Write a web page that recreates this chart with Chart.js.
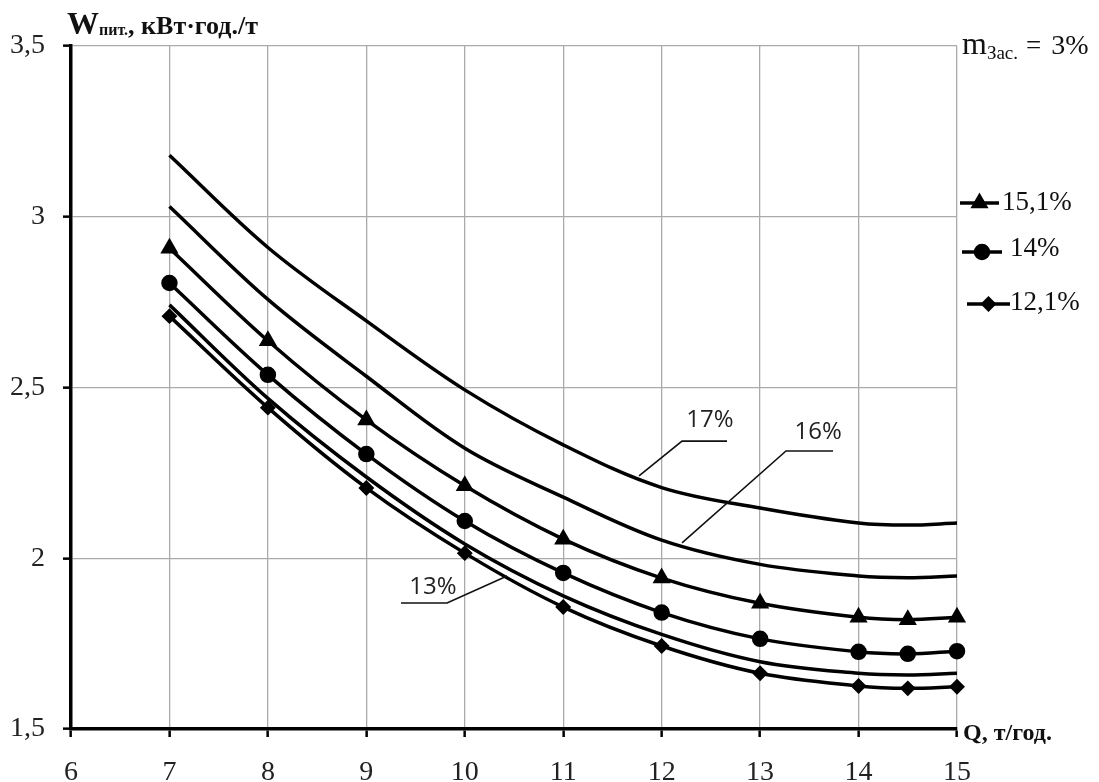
<!DOCTYPE html>
<html>
<head>
<meta charset="utf-8">
<script src="https://cdn.jsdelivr.net/npm/chart.js@4.4.1/dist/chart.umd.min.js"></script>
<style>
  html, body { margin: 0; padding: 0; background: #fff; }
  #wrap { width: 1099px; height: 782px; }
</style>
</head>
<body>
<div id="wrap"><canvas id="chart" width="1099" height="782"></canvas></div>
<script>
// Q, t/h  (x values, same for every curve)
const qValues = [7, 8, 9, 10, 11, 12, 13, 14, 14.5, 15];

// W, kWh/t for every moisture level
const w17  = [3.18, 2.91, 2.695, 2.493, 2.332, 2.207, 2.147, 2.103, 2.097, 2.103];
const w16  = [3.03, 2.758, 2.533, 2.322, 2.179, 2.053, 1.982, 1.948, 1.943, 1.948];
const w151 = [2.908, 2.637, 2.405, 2.212, 2.056, 1.942, 1.868, 1.827, 1.82, 1.827];
const w14  = [2.806, 2.537, 2.305, 2.109, 1.957, 1.841, 1.764, 1.726, 1.72, 1.728];
const w13  = [2.742, 2.468, 2.238, 2.042, 1.89, 1.777, 1.697, 1.663, 1.658, 1.663];
const w121 = [2.709, 2.441, 2.206, 2.015, 1.857, 1.743, 1.663, 1.626, 1.619, 1.624];

const seriesLabels = ['17%', '16%', '15,1%', '14%', '13%', '12,1%'];
const xTickLabels = ['6', '7', '8', '9', '10', '11', '12', '13', '14', '15'];
const yTickValues = [1.5, 2, 2.5, 3, 3.5];
const yTickLabels = ['1,5', '2', '2,5', '3', '3,5'];

// callouts for the unmarked curves: [label, curve point, elbow, line end, text centre] in data units
const callouts = [
  ['17%', [11.77, 2.241], [12.207, 2.343], [12.664, 2.343], [12.49, 2.405]],
  ['16%', [12.207, 2.045], [13.263, 2.314], [13.741, 2.314], [13.59, 2.37]],
  ['13%', [10.43, 1.948], [9.82, 1.869], [9.352, 1.869], [9.677, 1.915]]
];

const serif = '"Liberation Serif", "Times New Roman", serif';
const sans = '"Open Sans", "Liberation Sans", Arial, sans-serif';

function toPoints(values) {
  return qValues.map((q, i) => ({ x: q, y: values[i] }));
}

function curve(label, values, style, radius) {
  return {
    label: label,
    data: toPoints(values),
    borderColor: '#000',
    backgroundColor: '#000',
    borderWidth: 3.5,
    tension: 0.35,
    pointStyle: style || 'circle',
    pointRadius: style ? radius : 0,
    pointHoverRadius: 0,
    clip: false
  };
}

// draws text made of several runs (for subscripts)
function drawRuns(ctx, x, y, runs) {
  ctx.textAlign = 'left';
  ctx.textBaseline = 'alphabetic';
  runs.forEach(r => {
    ctx.font = r.font;
    ctx.fillText(r.text, x, y + (r.dy || 0));
    x += ctx.measureText(r.text).width + (r.gap || 0);
  });
}

const decorations = {
  id: 'decorations',
  afterDraw(chart) {
    const ctx = chart.ctx;
    const xs = chart.scales.x, ys = chart.scales.y;
    const px = v => xs.getPixelForValue(v), py = v => ys.getPixelForValue(v);
    ctx.save();
    ctx.fillStyle = '#111';

    // y-axis title
    drawRuns(ctx, 67, 34, [
      { text: 'W', font: 'bold 32px ' + serif },
      { text: 'пит.', font: 'bold 16px ' + serif, dy: 1 },
      { text: ', кВт·год./т', font: 'bold 26px ' + serif }
    ]);

    // x-axis title
    drawRuns(ctx, 963, 740, [{ text: 'Q, т/год.', font: 'bold 24px ' + serif }]);

    // moisture of the feed note
    drawRuns(ctx, 962, 54, [
      { text: 'm', font: '32px ' + serif },
      { text: 'Зас.', font: '19px ' + serif, dy: 5, gap: 8 },
      { text: '=', font: '27px ' + serif, gap: 10 },
      { text: '3%', font: '28px ' + serif }
    ]);

    // legend for the marked curves
    const legendRows = [
      { ds: 2, x0: 960, x1: 999, y: 203, tx: 1002, ty: 210 },
      { ds: 3, x0: 962, x1: 1002, y: 252, tx: 1010, ty: 256 },
      { ds: 5, x0: 967, x1: 1010, y: 304, tx: 1010, ty: 310 }
    ];
    legendRows.forEach(row => {
      const ds = chart.data.datasets[row.ds];
      ctx.strokeStyle = '#000';
      ctx.lineWidth = 3.5;
      ctx.beginPath();
      ctx.moveTo(row.x0, row.y);
      ctx.lineTo(row.x1, row.y);
      ctx.stroke();
      ctx.fillStyle = '#000';
      Chart.helpers.drawPoint(ctx, {
        pointStyle: ds.pointStyle, radius: ds.pointRadius, rotation: 0, borderWidth: 1
      }, (row.x0 + row.x1) / 2, row.y);
      ctx.fillStyle = '#111';
      drawRuns(ctx, row.tx, row.ty, [{ text: ds.label, font: '27px ' + serif }]);
    });

    // callouts
    ctx.strokeStyle = '#111';
    ctx.lineWidth = 1.6;
    ctx.fillStyle = '#222';
    ctx.font = '24px ' + sans;
    ctx.textAlign = 'center';
    ctx.textBaseline = 'middle';
    callouts.forEach(([label, p0, p1, p2, t]) => {
      ctx.beginPath();
      ctx.moveTo(px(p0[0]), py(p0[1]));
      ctx.lineTo(px(p1[0]), py(p1[1]));
      ctx.lineTo(px(p2[0]), py(p2[1]));
      ctx.stroke();
      ctx.fillText(label, px(t[0]), py(t[1]));
    });
    ctx.restore();
  }
};

new Chart(document.getElementById('chart'), {
  type: 'line',
  data: {
    datasets: [
      curve(seriesLabels[0], w17),
      curve(seriesLabels[1], w16),
      curve(seriesLabels[2], w151, 'triangle', 7),
      curve(seriesLabels[3], w14, 'circle', 6.5),
      curve(seriesLabels[4], w13),
      curve(seriesLabels[5], w121, 'rectRot', 5.5)
    ]
  },
  options: {
    responsive: false,
    devicePixelRatio: 1,
    animation: false,
    events: [],
    layout: { padding: { left: 0, top: 46, right: 142, bottom: 0 } },
    plugins: { legend: { display: false }, tooltip: { enabled: false } },
    scales: {
      x: {
        type: 'linear',
        min: 6,
        max: 15,
        afterFit(scale) { scale.height = 53; },
        afterBuildTicks(scale) {
          scale.ticks = xTickLabels.map(t => ({ value: Number(t) }));
        },
        ticks: {
          padding: 19,
          autoSkip: false,
          maxRotation: 0,
          color: '#222',
          font: { family: serif, size: 28 },
          callback: (v, i) => xTickLabels[i]
        },
        grid: { color: '#aaa', lineWidth: 1.3, tickLength: 8, tickColor: '#000', tickWidth: 2.5 },
        border: { color: '#000', width: 3.5 }
      },
      y: {
        min: 1.5,
        max: 3.5,
        afterFit(scale) { scale.width = 71; },
        afterBuildTicks(scale) {
          scale.ticks = yTickValues.map(v => ({ value: v }));
        },
        ticks: {
          padding: 18,
          color: '#222',
          font: { family: serif, size: 28 },
          callback: (v, i) => yTickLabels[i]
        },
        grid: { color: '#aaa', lineWidth: 1.3, tickLength: 8, tickColor: '#000', tickWidth: 2.5 },
        border: { color: '#000', width: 3.5 }
      }
    }
  },
  plugins: [decorations]
});
</script>
</body>
</html>
